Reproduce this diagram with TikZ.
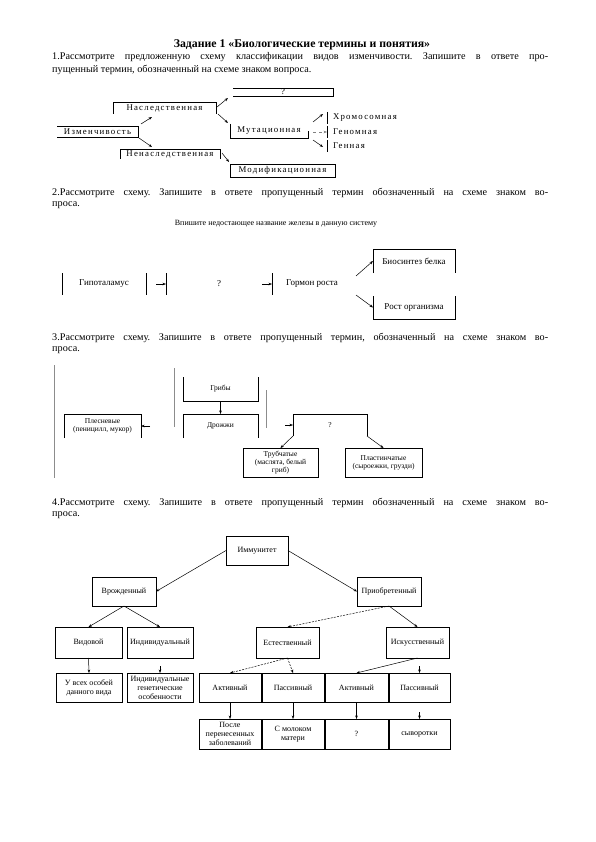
\documentclass[tikz,border=0pt]{standalone}
\usepackage{fontspec}
\setmainfont{Liberation Serif}
\newfontfamily\spacedfont[LetterSpace=14]{Liberation Serif}
\usetikzlibrary{arrows.meta}
\newcommand\myfa{\spacedfont\fontsize{8.8}{9.5}\selectfont}
\newcommand\myfb{\fontsize{9}{10}\selectfont}
\newcommand\myfc{\fontsize{7.5}{8.2}\selectfont}
\newcommand\myfd{\fontsize{8}{9}\selectfont}
\frenchspacing
\begin{document}
\frenchspacing
\begin{tikzpicture}[x=1pt,y=-1pt,
  ln/.style={line width=0.8pt},
  arr/.style={line width=0.5pt,-{Stealth[length=3.5pt,width=2.6pt]}},
  darr/.style={arr,dashed,dash pattern=on 2pt off 1.2pt},
  bx/.style={inner sep=0pt,outer sep=0pt,align=center},
  fullbox/.style={bx,draw,line width=0.8pt},
  body/.style={anchor=west,inner sep=0pt,font=\fontsize{10.2}{12}\selectfont},
  graybar/.style={line width=0.8pt,draw=black!45}]
\fill[white] (0,0) rectangle (595,842);
\useasboundingbox (0,0) rectangle (595,842);

% ---------- Title and task texts ----------
\node[font=\bfseries\fontsize{11.8}{13}\selectfont] (title) at (302,45) {Задание 1 «Биологические термины и понятия»};
\node[body] (t1a) at (52,57) {\makebox[496pt][s]{1.Рассмотрите предложенную схему классификации видов изменчивости. Запишите в ответе про-}};
\node[body] (t1b) at (52,70) {пущенный термин, обозначенный на схеме знаком вопроса.};
\node[body] (t2a) at (52,193) {\makebox[496pt][s]{2.Рассмотрите схему. Запишите в ответе пропущенный термин обозначенный на схеме знаком во-}};
\node[body] (t2b) at (52,205) {проса.};
\node[body] (t3a) at (52,338) {\makebox[496pt][s]{3.Рассмотрите схему. Запишите в ответе пропущенный термин, обозначенный на схеме знаком во-}};
\node[body] (t3b) at (52,350) {проса.};
\node[body] (t4a) at (52,503) {\makebox[496pt][s]{4.Рассмотрите схему. Запишите в ответе пропущенный термин обозначенный на схеме знаком во-}};
\node[body] (t4b) at (52,515) {проса.};

% ---------- Diagram 1 ----------
\node[bx,font=\myfa,minimum width=100pt,minimum height=8pt] (q1) at (283,92) {?};
\draw[ln] (q1.north west) -- (q1.north east) -- (q1.south east) -- (q1.south west);
\node[bx,font=\myfa,minimum width=103pt,minimum height=12pt] (nasl) at (164.5,108) {Наследственная};
\draw[ln] (nasl.south west) -- (nasl.north west) -- (nasl.north east) -- (nasl.south east);
\node[bx,font=\myfa,minimum width=81pt,minimum height=11pt] (izm) at (97.5,131.5) {Изменчивость};
\draw[ln] (izm.north west) -- (izm.north east) -- (izm.south east) -- (izm.south west);
\node[bx,font=\myfa,minimum width=100pt,minimum height=10pt] (nenasl) at (170,154) {Ненаследственная};
\draw[ln] (nenasl.south west) -- (nenasl.north west) -- (nenasl.north east) -- (nenasl.south east);
\node[bx,font=\myfa,minimum width=78pt,minimum height=14pt] (mut) at (269,131) {Мутационная};
\draw[ln] (mut.north west) -- (mut.south west) -- (mut.south east) -- (mut.east);
\node[fullbox,font=\myfa,minimum width=105pt,minimum height=13pt] (mod) at (282.5,170.5) {Модификационная};
\node[bx,anchor=west,font=\myfa,minimum height=12pt,inner xsep=6pt] (xrom) at (327,118) {Хромосомная};
\node[bx,anchor=west,font=\myfa,minimum height=12pt,inner xsep=6pt] (genom) at (327,132) {Геномная};
\node[bx,anchor=west,font=\myfa,minimum height=12pt,inner xsep=6pt] (gen) at (327,146) {Генная};
\draw[ln] (xrom.north west) -- (xrom.south west);
\draw[ln] (genom.north west) -- (genom.south west);
\draw[ln] (gen.north west) -- (gen.south west);

\coordinate (a1s) at (141,124); \coordinate (a1e) at (152,117);
\coordinate (a2s) at (139,138); \coordinate (a2e) at (152,147);
\coordinate (a3s) at (217,107); \coordinate (a3e) at (228,98);
\coordinate (a4s) at (218,114); \coordinate (a4e) at (228,123);
\coordinate (a5s) at (222,153); \coordinate (a5e) at (229,162);
\coordinate (a6s) at (313,122); \coordinate (a6e) at (323,114);
\coordinate (a7s) at (313,132);
\coordinate (a8s) at (313,140); \coordinate (a8e) at (323,147);
\draw[arr] (a1s) -- (a1e);
\draw[arr] (a2s) -- (a2e);
\draw[arr] (a3s) -- (a3e);
\draw[arr] (a4s) -- (a4e);
\draw[arr] (a5s) -- (a5e);
\draw[arr] (a6s) -- (a6e);
\draw[arr,draw=black!50,dashed] (a7s) -- (genom.west);
\draw[arr] (a8s) -- (a8e);

% ---------- Diagram 2 ----------
\node[bx,font=\myfd] (cap2) at (276,224) {Впишите недостающее название железы в данную систему};
\node[bx,font=\myfb,minimum width=84pt,minimum height=22pt] (gip) at (104,284) {Гипоталамус};
\draw[ln] (gip.north west) -- (gip.south west);
\draw[ln] (gip.north east) -- (gip.south east);
\node[bx,font=\myfb,minimum width=106pt,minimum height=22pt] (q2) at (219,284) {?};
\draw[ln] (q2.north west) -- (q2.south west);
\node[bx,font=\myfb,minimum width=80pt,minimum height=22pt] (gorm) at (312,284) {Гормон роста};
\draw[ln] (gorm.north west) -- (gorm.south west);
\node[bx,font=\myfb,minimum width=82pt,minimum height=24pt] (bios) at (414,261) {Биосинтез белка};
\draw[ln] (bios.south west) -- (bios.north west) -- (bios.north east) -- (bios.south east);
\node[bx,font=\myfb,minimum width=82pt,minimum height=23pt] (rost) at (414,307.5) {Рост организма};
\draw[ln] (rost.north west) -- (rost.south west) -- (rost.south east) -- (rost.north east);
\coordinate (b1s) at (156,284);
\coordinate (b2s) at (262,284);
\coordinate (b3s) at (356,276);
\coordinate (b4s) at (356,295);
\draw[arr] (b1s) -- (q2.west);
\draw[arr] (b2s) -- (gorm.west);
\draw[arr] (b3s) -- (bios.west);
\draw[arr] (b4s) -- (rost.west);

% ---------- Diagram 3 ----------
\draw[graybar] (54,365) -- (54,478);
\draw[graybar] (174,368) -- (174,427);
\draw[graybar] (266,390) -- (266,428);
\node[bx,font=\myfc,minimum width=75pt,minimum height=24pt] (grib) at (220.5,389) {Грибы};
\draw[ln] (grib.north west) -- (grib.south west) -- (grib.south east) -- (grib.north east);
\node[bx,font=\myfc,minimum width=75pt,minimum height=24pt] (droz) at (220.5,426) {Дрожжи};
\draw[ln] (droz.south west) -- (droz.north west) -- (droz.north east) -- (droz.south east);
\node[bx,font=\myfc,minimum width=77pt,minimum height=24pt] (plesn) at (102.5,426) {Плесневые\\(пеницилл, мукор)};
\draw[ln] (plesn.south west) -- (plesn.north west) -- (plesn.north east) -- (plesn.south east);
\node[bx,font=\myfc,minimum width=74pt,minimum height=22pt] (q3) at (330,425) {?};
\draw[ln] (q3.south west) -- (q3.north west) -- (q3.north east) -- (q3.south east);
\node[fullbox,font=\myfc,minimum width=75pt,minimum height=29pt] (trub) at (280.5,462.5) {Трубчатые\\(маслята, белый\\гриб)};
\node[fullbox,font=\myfc,minimum width=77pt,minimum height=29pt] (plast) at (383.5,462.5) {Пластинчатые\\(сыроежки, грузди)};
\coordinate (c1s) at (150,426);
\coordinate (c2s) at (285,425);
\draw[arr] (grib.south) -- (droz.north);
\draw[arr] (c1s) -- (plesn.east);
\draw[arr] (c2s) -- (q3.west);
\draw[arr] (q3.south west) -- (trub.north);
\draw[arr] (q3.south east) -- (plast.north);

% ---------- Diagram 4 ----------
\node[fullbox,font=\myfd,minimum width=62pt,minimum height=29pt] (imm) at (257,550.5) {Иммунитет};
\node[fullbox,font=\myfd,minimum width=64pt,minimum height=29pt] (vroz) at (124,591.5) {Врожденный};
\node[fullbox,font=\myfd,minimum width=64pt,minimum height=29pt] (prio) at (389,591.5) {Приобретенный};
\node[fullbox,font=\myfd,minimum width=67pt,minimum height=31pt] (vid) at (88.5,642.5) {Видовой};
\node[fullbox,font=\myfd,minimum width=66pt,minimum height=31pt] (indiv) at (160,642.5) {Индивидуальный};
\node[fullbox,font=\myfd,minimum width=63pt,minimum height=31pt] (est) at (287.5,642.5) {Естественный};
\node[fullbox,font=\myfd,minimum width=63pt,minimum height=31pt] (isk) at (417.5,642.5) {Искусственный};
\node[fullbox,font=\myfd,minimum width=66pt,minimum height=29pt] (vse) at (89,687.5) {У всех особей\\данного вида};
\node[fullbox,font=\myfd,minimum width=66pt,minimum height=29pt] (igen) at (160,687.5) {Индивидуальные\\генетические\\особенности};
\node[fullbox,font=\myfd,minimum width=62pt,minimum height=29pt] (akt1) at (230,687.5) {Активный};
\node[fullbox,font=\myfd,minimum width=62pt,minimum height=29pt] (pas1) at (293,687.5) {Пассивный};
\node[fullbox,font=\myfd,minimum width=63pt,minimum height=29pt] (akt2) at (356.5,687.5) {Активный};
\node[fullbox,font=\myfd,minimum width=61pt,minimum height=29pt] (pas2) at (419.5,687.5) {Пассивный};
\node[fullbox,font=\myfd,minimum width=62pt,minimum height=30pt] (posle) at (230,734) {После\\перенесенных\\заболеваний};
\node[fullbox,font=\myfd,minimum width=62pt,minimum height=30pt] (mol) at (293,734) {С молоком\\матери};
\node[fullbox,font=\myfd,minimum width=63pt,minimum height=30pt] (q4) at (356.5,734) {?};
\node[fullbox,font=\myfd,minimum width=61pt,minimum height=30pt] (syv) at (419.5,734) {сыворотки};
\coordinate (d1s) at (160,666);
\coordinate (d2s) at (419.5,666);
\coordinate (d3s) at (419.5,712);
\draw[arr] (imm.west) -- (vroz.east);
\draw[arr] (imm.east) -- (prio.west);
\draw[arr] (vroz.south) -- (vid.north);
\draw[arr] (vroz.south) -- (indiv.north);
\draw[darr] (prio.south) -- (est.north);
\draw[arr] (prio.south) -- (isk.north);
\draw[arr] (vid.south) -- (vse.north);
\draw[arr] (d1s) -- (igen.north);
\draw[darr] (est.south) -- (akt1.north);
\draw[darr] (est.south) -- (pas1.north);
\draw[arr] (isk.south) -- (akt2.north);
\draw[arr] (d2s) -- (pas2.north);
\draw[arr] (akt1.south) -- (posle.north);
\draw[arr] (pas1.south) -- (mol.north);
\draw[arr] (akt2.south) -- (q4.north);
\draw[arr] (d3s) -- (syv.north);
\end{tikzpicture}
\end{document}
